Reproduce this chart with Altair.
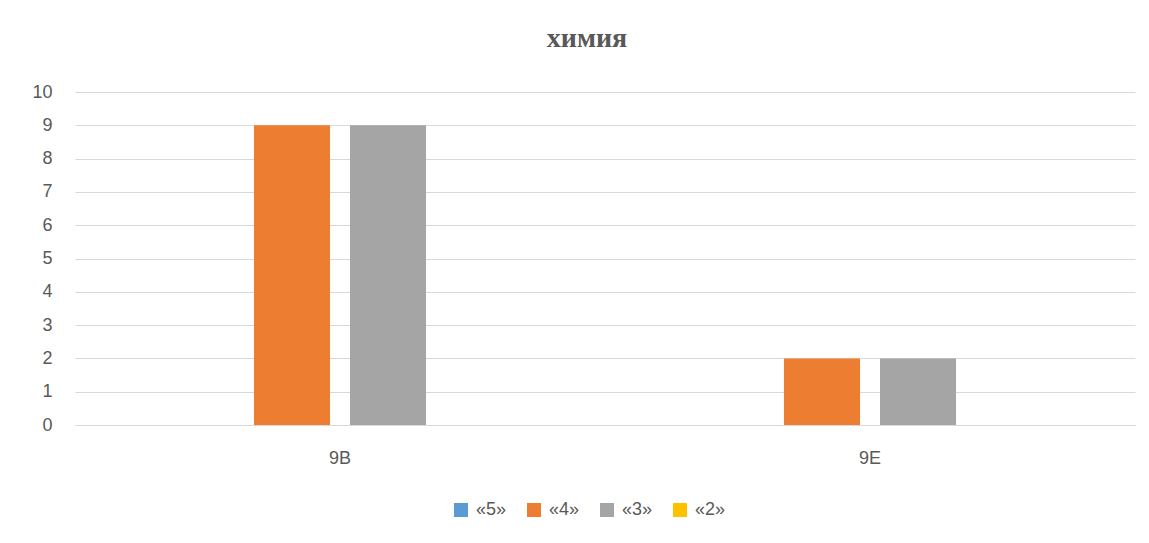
import altair as alt
import pandas as pd

classes = ["9В", "9Е"]
series = ["«5»", "«4»", "«3»", "«2»"]
colors = ["#5B9BD5", "#ED7D31", "#A5A5A5", "#FFC000"]
v5 = [0, 0]
v4 = [9, 2]
v3 = [9, 2]
v2 = [0, 0]

rows = []
for s, vals in zip(series, [v5, v4, v3, v2]):
    for c, v in zip(classes, vals):
        rows.append({"class": c, "grade": s, "count": v})
df = pd.DataFrame(rows)

font = "Liberation Sans"
chart = alt.Chart(df).mark_bar().encode(
    x=alt.X("class:N", sort=classes, title=None,
            scale=alt.Scale(paddingInner=0, paddingOuter=0),
            axis=alt.Axis(labelAngle=0, ticks=False, domain=True, domainColor="#D9D9D9",
                          labelPadding=24, labelFontSize=18, labelColor="#595959", labelFont=font)),
    xOffset=alt.XOffset("grade:N", sort=series,
                        scale=alt.Scale(paddingInner=0.208, paddingOuter=0.864)),
    y=alt.Y("count:Q", title=None, scale=alt.Scale(domain=[0, 10]),
            axis=alt.Axis(values=list(range(0, 11)), ticks=False, domain=False,
                          gridColor="#D9D9D9", labelPadding=23, labelFontSize=18,
                          labelColor="#595959", labelFont=font)),
    color=alt.Color("grade:N", sort=series, title=None,
                    scale=alt.Scale(domain=series, range=colors),
                    legend=alt.Legend(orient="none", legendX=377, legendY=409,
                                      direction="horizontal", symbolType="square",
                                      symbolSize=196, symbolStrokeWidth=0, labelFontSize=18,
                                      labelColor="#595959", labelFont=font,
                                      columnPadding=18, labelOffset=6)),
).properties(
    width=1060, height=333,
    title=alt.TitleParams("химия", font="Liberation Serif", fontSize=28, fontWeight="bold",
                          color="#595959", anchor="middle", offset=30, dx=-18),
    autosize=alt.AutoSizeParams(type="none"),
    padding={"left": 67, "top": 84, "right": 6, "bottom": 110},
).configure_view(stroke=None)

chart.save("out.html", embed_options={"renderer": "svg", "actions": False})
